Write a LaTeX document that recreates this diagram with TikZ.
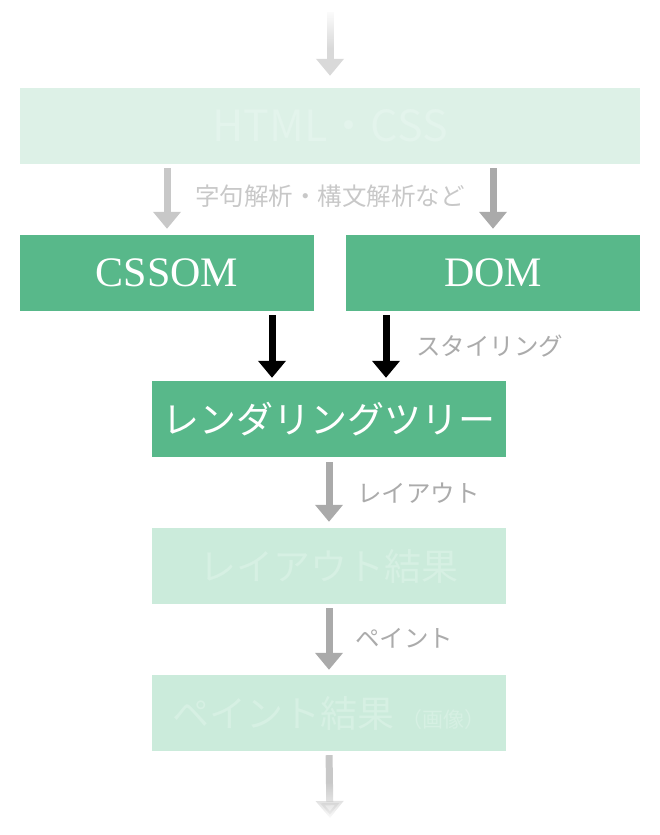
\documentclass[tikz,border=0pt]{standalone}
\usepackage{fontspec}
\setmainfont{Noto Sans CJK JP}
\newfontfamily\latinserif{Liberation Serif}
\usepackage{tikz}
\usetikzlibrary{arrows.meta, fadings}
\definecolor{GREEN}{HTML}{58B88A}
\definecolor{PALE}{HTML}{DDF1E7}
\definecolor{PALETEXT}{HTML}{E3F4EC}
\definecolor{MINT}{HTML}{CBEBDB}
\definecolor{MINTTEXT}{HTML}{D6F0E3}
\definecolor{LIGHTGRAY}{HTML}{C8C8C8}
\definecolor{GRAY}{HTML}{AAAAAA}
\definecolor{LABEL}{HTML}{ABABAB}
\begin{tikzfadingfrompicture}[name=fadetop]
    \shade[top color=black, bottom color=white] (-30pt,0pt) rectangle (30pt,40pt);
    \fill[white] (-30pt,-40pt) rectangle (30pt,0pt);
\end{tikzfadingfrompicture}
\begin{tikzfadingfrompicture}[name=fadebottom]
    \fill[white] (-30pt,0pt) rectangle (30pt,40pt);
    \shade[top color=white, bottom color=black] (-30pt,-40pt) rectangle (30pt,0pt);
\end{tikzfadingfrompicture}

\begin{document}
\begin{tikzpicture}[x=1pt, y=-1pt,
    box/.style={fill=GREEN, text=white, minimum height=76pt, inner sep=0pt},
    palebox/.style={fill=PALE, text=PALETEXT, minimum height=76pt, inner sep=0pt},
    mintbox/.style={fill=MINT, text=MINTTEXT, minimum height=76pt, inner sep=0pt},
    big/.style={font=\fontsize{37}{40}\selectfont},
    label/.style={text=LABEL, font=\fontsize{24.5}{28}\selectfont, inner sep=0pt},
    flow/.style={line width=7pt, -{Triangle[width=27pt,length=17pt]}}]
    \useasboundingbox (0,0) rectangle (660,835);
    \node[palebox, minimum width=620pt, font=\fontsize{43}{46}\selectfont] (src) at (330,126) {HTML・CSS};
    \node[box, minimum width=294pt, font=\latinserif\fontsize{42}{46}\selectfont] (cssom) at (167,273) {CSSOM};
    \node[box, minimum width=294pt, font=\latinserif\fontsize{42}{46}\selectfont] (dom) at (493,273) {DOM};
    \node[box, minimum width=354pt, big] (tree) at (329,419) {レンダリングツリー};
    \node[mintbox, minimum width=354pt, big] (layout) at (329,566) {レイアウト結果};
    \node[mintbox, minimum width=354pt, big] (paint) at (329,713) {ペイント結果\,{\fontsize{21}{24}\selectfont（画像）}};
    \coordinate (in) at (330,12);
    \coordinate (out) at (330,818);
    \draw[flow, draw=LIGHTGRAY!70, path fading=fadetop, fit fading=false, fading transform={shift={(330,48)}}, shorten >=12pt] (in) -- (src.north -| in);
    \draw[flow, draw=LIGHTGRAY, shorten <=4pt, shorten >=6pt] (src.south -| cssom.north) -- (cssom.north);
    \draw[flow, draw=GRAY, shorten <=4pt, shorten >=6pt] (src.south -| dom.north) -- (dom.north);
    \node[label, text=LIGHTGRAY] (parse) at (330,196) {字句解析・構文解析など};
    \draw[flow, draw=black, shorten <=4pt, shorten >=3pt] ([xshift=105pt]cssom.south) -- ([xshift=105pt]cssom.south |- tree.north);
    \draw[flow, draw=black, shorten <=4pt, shorten >=3pt] ([xshift=-107pt]dom.south) -- ([xshift=-107pt]dom.south |- tree.north);
    \node[label, anchor=west] (style) at (416,346) {スタイリング};
    \draw[flow, draw=GRAY, shorten <=5pt, shorten >=6pt] (tree.south) -- (layout.north);
    \node[label, anchor=west] (lay) at (357,493) {レイアウト};
    \draw[flow, draw=GRAY, shorten <=4pt, shorten >=5pt] (layout.south) -- (paint.north);
    \node[label, anchor=west] (pnt) at (355,638) {ペイント};
    \draw[flow, draw=LIGHTGRAY, path fading=fadebottom, fit fading=false, fading transform={shift={(330,782)}}, shorten <=4pt] (paint.south) -- (out);
\end{tikzpicture}
\end{document}
